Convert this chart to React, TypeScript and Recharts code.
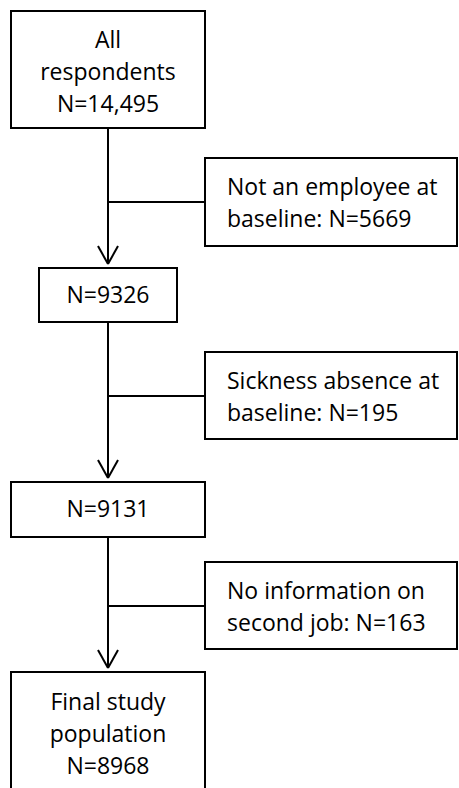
import { ScatterChart, Scatter, XAxis, YAxis, ReferenceArea, ReferenceLine } from 'recharts';

// flowchart content
const stageLabels = [['All', 'respondents'], [], [], ['Final study', 'population']];
const stageCounts = ['14,495', '9326', '9131', '8968'];
const exclusionLabels = [['Not an employee at', 'baseline:'], ['Sickness absence at', 'baseline:'], ['No information on', 'second job:']];
const exclusionCounts = ['5669', '195', '163'];

// layout in page pixels (chart domain matches the page size)
const W = 459;
const H = 788;
const CX = 108;
const stageBoxes = [
  { x1: 11, x2: 205, y1: 11, y2: 128, base: 48 },
  { x1: 39, x2: 177, y1: 268, y2: 322, base: 303 },
  { x1: 11, x2: 205, y1: 482, y2: 537, base: 517 },
  { x1: 11, x2: 205, y1: 672, y2: 792, base: 710 },
];
const sideBoxes = [
  { x1: 205, x2: 457, y1: 158, y2: 246, branch: 202, base: 195 },
  { x1: 205, x2: 457, y1: 352, y2: 439, branch: 396, base: 389 },
  { x1: 205, x2: 457, y1: 562, y2: 649, branch: 606, base: 599 },
];
const LINE = 32;
const TEXT_X = 227;

const textPoints: { x: number; y: number; text: string; anchor: string }[] = [];
stageBoxes.forEach((b, i) => {
  const lines = [...stageLabels[i], `N=${stageCounts[i]}`];
  lines.forEach((t, j) => textPoints.push({ x: CX, y: b.base + j * LINE, text: t, anchor: 'middle' }));
});
sideBoxes.forEach((b, i) => {
  const lines = [exclusionLabels[i][0], `${exclusionLabels[i][1]} N=${exclusionCounts[i]}`];
  lines.forEach((t, j) => textPoints.push({ x: TEXT_X, y: b.base + j * LINE, text: t, anchor: 'start' }));
});

const TextMark = (props: any) => {
  const { cx, cy, payload } = props;
  return (
    <text x={cx} y={cy} textAnchor={payload.anchor} fontFamily="Open Sans" fontSize={23} fill="#000">
      {payload.text}
    </text>
  );
};

const lineStyle = { stroke: '#000', strokeWidth: 2, ifOverflow: 'visible' as const };

export default function App() {
  const arrows = stageBoxes.slice(0, 3).map((b, i) => {
    const tip = stageBoxes[i + 1].y1 - 4;
    return { from: b.y2, tip };
  });
  return (
    <div style={{ position: 'absolute', left: 0, top: 0, background: '#fff' }}>
      <ScatterChart width={W} height={H} margin={{ top: 0, right: 0, bottom: 0, left: 0 }}>
        <XAxis type="number" dataKey="x" domain={[0, W]} hide />
        <YAxis type="number" dataKey="y" domain={[0, H]} reversed hide />
        {stageBoxes.map((b, i) => (
          <ReferenceArea key={`s${i}`} x1={b.x1} x2={b.x2} y1={b.y1} y2={b.y2} fill="#fff" fillOpacity={1} stroke="#000" strokeWidth={2} ifOverflow="visible" />
        ))}
        {sideBoxes.map((b, i) => (
          <ReferenceArea key={`e${i}`} x1={b.x1} x2={b.x2} y1={b.y1} y2={b.y2} fill="#fff" fillOpacity={1} stroke="#000" strokeWidth={2} ifOverflow="visible" />
        ))}
        {arrows.map((a, i) => (
          <ReferenceLine key={`v${i}`} segment={[{ x: CX, y: a.from }, { x: CX, y: a.tip }]} {...lineStyle} />
        ))}
        {arrows.map((a, i) => (
          <ReferenceLine key={`al${i}`} segment={[{ x: CX - 10, y: a.tip - 18 }, { x: CX, y: a.tip }]} {...lineStyle} />
        ))}
        {arrows.map((a, i) => (
          <ReferenceLine key={`ar${i}`} segment={[{ x: CX + 10, y: a.tip - 18 }, { x: CX, y: a.tip }]} {...lineStyle} />
        ))}
        {sideBoxes.map((b, i) => (
          <ReferenceLine key={`b${i}`} segment={[{ x: CX, y: b.branch }, { x: b.x1, y: b.branch }]} {...lineStyle} />
        ))}
        <Scatter data={textPoints} shape={TextMark} isAnimationActive={false} />
      </ScatterChart>
    </div>
  );
}
